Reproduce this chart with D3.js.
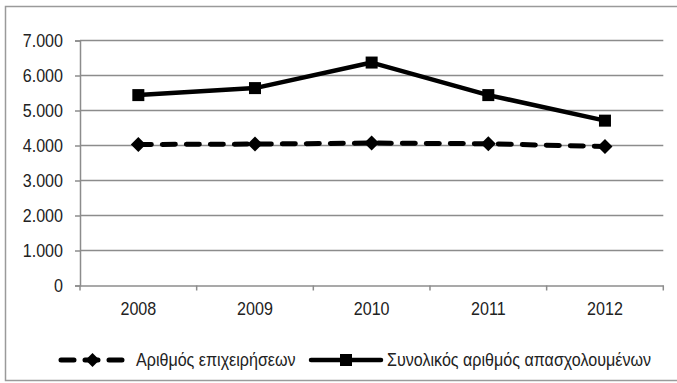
<!DOCTYPE html>
<html>
<head>
<meta charset="utf-8">
<script src="https://cdn.jsdelivr.net/npm/d3@7"></script>
<style>
  html, body { margin: 0; padding: 0; background: #fff; }
  svg { display: block; }
  text { font-family: "Liberation Sans Narrow", "Arial Narrow", "Liberation Sans", sans-serif; fill: #222; }
</style>
</head>
<body>
<svg id="chart" width="677" height="383"></svg>
<script>
// Years on the horizontal axis
const years = ["2008", "2009", "2010", "2011", "2012"];
// Number of businesses
const businesses = [4030, 4040, 4070, 4050, 3970];
// Total number of employees
const employees = [5440, 5640, 6370, 5440, 4710];
// Vertical axis ticks
const yTicks = [0, 1000, 2000, 3000, 4000, 5000, 6000, 7000];
const seriesNames = ["Αριθμός επιχειρήσεων", "Συνολικός αριθμός απασχολουμένων"];

(function () {
const svg = d3.select("#chart");
const gridColor = "#8c8c8c";
const fontSize = "17.5px";
const squeeze = 0.92;

// Condense a text element horizontally around its own anchor point
function condense(sel) {
  sel.each(function () {
    const t = d3.select(this);
    const tx = +t.attr("x") || 0;
    const ty = +t.attr("y") || 0;
    t.attr("x", 0).attr("y", 0)
      .attr("transform", `translate(${tx},${ty}) scale(${squeeze},1)`);
  });
}

// Outer chart frame
svg.append("rect")
  .attr("x", 5.5).attr("y", 6.5)
  .attr("width", 700).attr("height", 374)
  .attr("fill", "none").attr("stroke", "#9a9a9a").attr("stroke-width", 1.5);

const plotLeft = 80, plotRight = 663.3, plotTop = 40.5, plotBottom = 285.5;

const x = d3.scaleBand().domain(years).range([plotLeft, plotRight]);
const y = d3.scaleLinear().domain([0, 7000]).range([plotBottom, plotTop]);

const fmt = d => d3.format(",")(d).replace(/,/g, ".");

// Horizontal gridlines
svg.append("g")
  .selectAll("line")
  .data(yTicks.filter(d => d > 0))
  .join("line")
  .attr("x1", plotLeft).attr("x2", plotRight)
  .attr("y1", d => y(d)).attr("y2", d => y(d))
  .attr("stroke", gridColor).attr("stroke-width", 1.5);

// Y axis
const yAxis = svg.append("g")
  .attr("transform", `translate(${plotLeft},0)`)
  .call(d3.axisLeft(y).tickValues(yTicks).tickFormat(fmt).tickSize(5).tickPadding(12));
yAxis.select(".domain").attr("stroke", gridColor).attr("stroke-width", 1.5);
yAxis.selectAll(".tick line").attr("stroke", gridColor).attr("stroke-width", 1.5);
yAxis.selectAll("text").style("font-size", fontSize).attr("fill", "#222").call(condense);

// X axis with ticks between categories
const xAxis = svg.append("g")
  .attr("transform", `translate(0,${plotBottom})`)
  .call(d3.axisBottom(x).tickSize(0).tickPadding(16));
xAxis.select(".domain").attr("stroke", gridColor).attr("stroke-width", 1.5);
xAxis.selectAll("text").style("font-size", fontSize).attr("fill", "#222").attr("dy", "0.75em").call(condense);
const bounds = years.map(d => x(d)).concat([plotRight]);
svg.append("g")
  .selectAll("line")
  .data(bounds)
  .join("line")
  .attr("x1", d => d).attr("x2", d => d)
  .attr("y1", plotBottom).attr("y2", plotBottom + 5)
  .attr("stroke", gridColor).attr("stroke-width", 1.5);

const cx = d => x(d) + x.bandwidth() / 2;
const line = d3.line().x((d, i) => cx(years[i])).y(d => y(d));

// Employees: solid line with square markers
svg.append("path")
  .datum(employees)
  .attr("d", line)
  .attr("fill", "none").attr("stroke", "#000").attr("stroke-width", 4.5)
  .attr("stroke-linejoin", "round");
svg.append("g")
  .selectAll("rect")
  .data(employees)
  .join("rect")
  .attr("x", (d, i) => cx(years[i]) - 6)
  .attr("y", d => y(d) - 6)
  .attr("width", 12).attr("height", 12)
  .attr("fill", "#000");

// Businesses: dashed line with diamond markers
svg.append("path")
  .datum(businesses)
  .attr("d", line)
  .attr("fill", "none").attr("stroke", "#000").attr("stroke-width", 5)
  .attr("stroke-linecap", "round").attr("stroke-dasharray", "13 11");
const diamond = (cxv, cyv, r) => `M${cxv},${cyv - r}L${cxv + r},${cyv}L${cxv},${cyv + r}L${cxv - r},${cyv}Z`;
svg.append("g")
  .selectAll("path")
  .data(businesses)
  .join("path")
  .attr("d", (d, i) => diamond(cx(years[i]), y(d), 7.5))
  .attr("fill", "#000");

// Legend
const ly = 360;
const leg = svg.append("g");
leg.append("line")
  .attr("x1", 61).attr("x2", 124).attr("y1", ly).attr("y2", ly)
  .attr("stroke", "#000").attr("stroke-width", 5)
  .attr("stroke-linecap", "round").attr("stroke-dasharray", "13 11");
leg.append("path").attr("d", diamond(92.5, ly, 7)).attr("fill", "#000");
leg.append("text").attr("x", 136).attr("y", ly).attr("dy", "0.35em")
  .style("font-size", fontSize).text(seriesNames[0]).call(condense);

leg.append("line")
  .attr("x1", 311).attr("x2", 381).attr("y1", ly).attr("y2", ly)
  .attr("stroke", "#000").attr("stroke-width", 4.5).attr("stroke-linecap", "round");
leg.append("rect").attr("x", 340).attr("y", ly - 6).attr("width", 12).attr("height", 12).attr("fill", "#000");
leg.append("text").attr("x", 387).attr("y", ly).attr("dy", "0.35em")
  .style("font-size", fontSize).text(seriesNames[1]).call(condense);
})();
</script>
</body>
</html>
